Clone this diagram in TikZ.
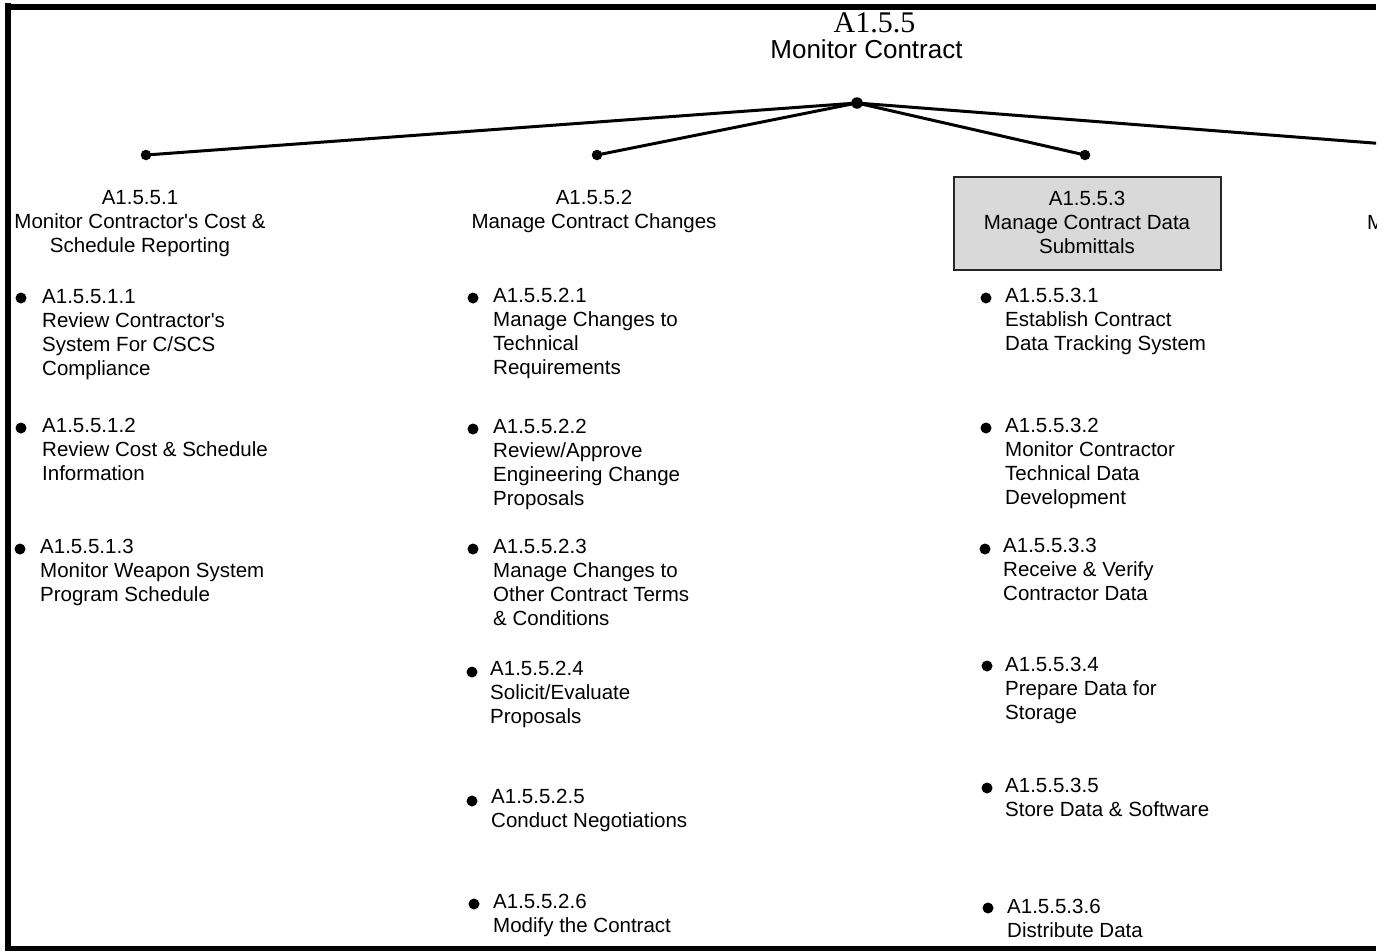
\documentclass[tikz,border=0pt]{standalone}
\usepackage{fontspec}
\setmainfont{Liberation Sans}
\newfontfamily\titleserif{Liberation Serif}
\newcommand\lstrut{\rule{0pt}{19pt}}
\begin{document}
\begin{tikzpicture}[x=1pt,y=-1pt,
  itemtext/.style={anchor=north west, inner sep=0pt, align=left, font=\fontsize{20.5}{24}\selectfont},
  headtext/.style={anchor=north, inner sep=0pt, align=center, font=\fontsize{20.5}{24}\selectfont},
  bul/.style={circle, fill=black, inner sep=0pt, minimum size=11pt},
  tdot/.style={circle, fill=black, inner sep=0pt, minimum size=10.5pt},
  conn/.style={line width=3pt},
  framebar/.style={line width=6pt},
  hbox/.style={draw=black!85, line width=2pt, fill=black!15, minimum width=267pt, minimum height=93pt, inner sep=0pt}]
\useasboundingbox (0,0) rectangle (1388,951);
\begin{scope}
\clip (0,0) rectangle (1376,951);
% frame
\draw[framebar] (8,3) -- (8,951);
\draw[framebar] (5,7) -- (1376,7);
\fill (5,946) rectangle (1376,951);
% title
\node[anchor=base, inner sep=0pt, font=\titleserif\fontsize{30}{36}\selectfont] (t1) at (874.5,32) {A1.5.5};
\node[anchor=base, inner sep=0pt, font=\fontsize{26}{30}\selectfont] (t2) at (866.5,58) {Monitor Contract};
% tree
\node[tdot, minimum size=11.5pt] (root) at (857,103) {};
\node[tdot] (c1) at (146,155) {};
\node[tdot] (c2) at (597,155) {};
\node[tdot] (c3) at (1085,155) {};
\coordinate (c4) at (1528,155);
\draw[conn] (root.center) -- (c1.center);
\draw[conn] (root.center) -- (c2.center);
\draw[conn] (root.center) -- (c3.center);
\draw[conn] (root.center) -- (c4);
% headers
\node[headtext] (h1) at (140,185) {\lstrut A1.5.5.1\\Monitor Contractor\textquotesingle s Cost \&\\Schedule Reporting};
\node[headtext] (h2) at (594,185) {\lstrut A1.5.5.2\\Manage Contract Changes};
\node[hbox] (h3box) at (1087.5,223.5) {};
\node[headtext] (h3) at (1087,186) {\lstrut A1.5.5.3\\Manage Contract Data\\Submittals};
\node[anchor=base west, inner sep=0pt, font=\fontsize{20.5}{24}\selectfont] (h4) at (1367,229) {M};
% column 1
\node[bul] (b11) at (21,298) {};
\node[itemtext] (i11) at (42,284) {\lstrut A1.5.5.1.1\\Review Contractor\textquotesingle s\\System For C/SCS\\Compliance};
\node[bul] (b12) at (21,428) {};
\node[itemtext] (i12) at (42,413) {\lstrut A1.5.5.1.2\\Review Cost \& Schedule\\Information};
\node[bul] (b13) at (20,549) {};
\node[itemtext] (i13) at (40,534) {\lstrut A1.5.5.1.3\\Monitor Weapon System\\Program Schedule};
% column 2
\node[bul] (b21) at (473,298) {};
\node[itemtext] (i21) at (493,283) {\lstrut A1.5.5.2.1\\Manage Changes to\\Technical\\Requirements};
\node[bul] (b22) at (473,429) {};
\node[itemtext] (i22) at (493,414) {\lstrut A1.5.5.2.2\\Review/Approve\\Engineering Change\\Proposals};
\node[bul] (b23) at (473,549) {};
\node[itemtext] (i23) at (493,534) {\lstrut A1.5.5.2.3\\Manage Changes to\\Other Contract Terms\\\& Conditions};
\node[bul] (b24) at (472,672) {};
\node[itemtext] (i24) at (490,656) {\lstrut A1.5.5.2.4\\Solicit/Evaluate\\Proposals};
\node[bul] (b25) at (472,801) {};
\node[itemtext] (i25) at (491,784) {\lstrut A1.5.5.2.5\\Conduct Negotiations};
\node[bul] (b26) at (474,904) {};
\node[itemtext] (i26) at (493,889) {\lstrut A1.5.5.2.6\\Modify the Contract};
% column 3
\node[bul] (b31) at (986,298) {};
\node[itemtext] (i31) at (1005,283) {\lstrut A1.5.5.3.1\\Establish Contract\\Data Tracking System};
\node[bul] (b32) at (986,428) {};
\node[itemtext] (i32) at (1005,413) {\lstrut A1.5.5.3.2\\Monitor Contractor\\Technical Data\\Development};
\node[bul] (b33) at (985,549) {};
\node[itemtext] (i33) at (1003,533) {\lstrut A1.5.5.3.3\\Receive \& Verify\\Contractor Data};
\node[bul] (b34) at (987,666) {};
\node[itemtext] (i34) at (1005,652) {\lstrut A1.5.5.3.4\\Prepare Data for\\Storage};
\node[bul] (b35) at (987,788) {};
\node[itemtext] (i35) at (1005,773) {\lstrut A1.5.5.3.5\\Store Data \& Software};
\node[bul] (b36) at (988,908) {};
\node[itemtext] (i36) at (1007,894) {\lstrut A1.5.5.3.6\\Distribute Data};
\end{scope}
\end{tikzpicture}
\end{document}
